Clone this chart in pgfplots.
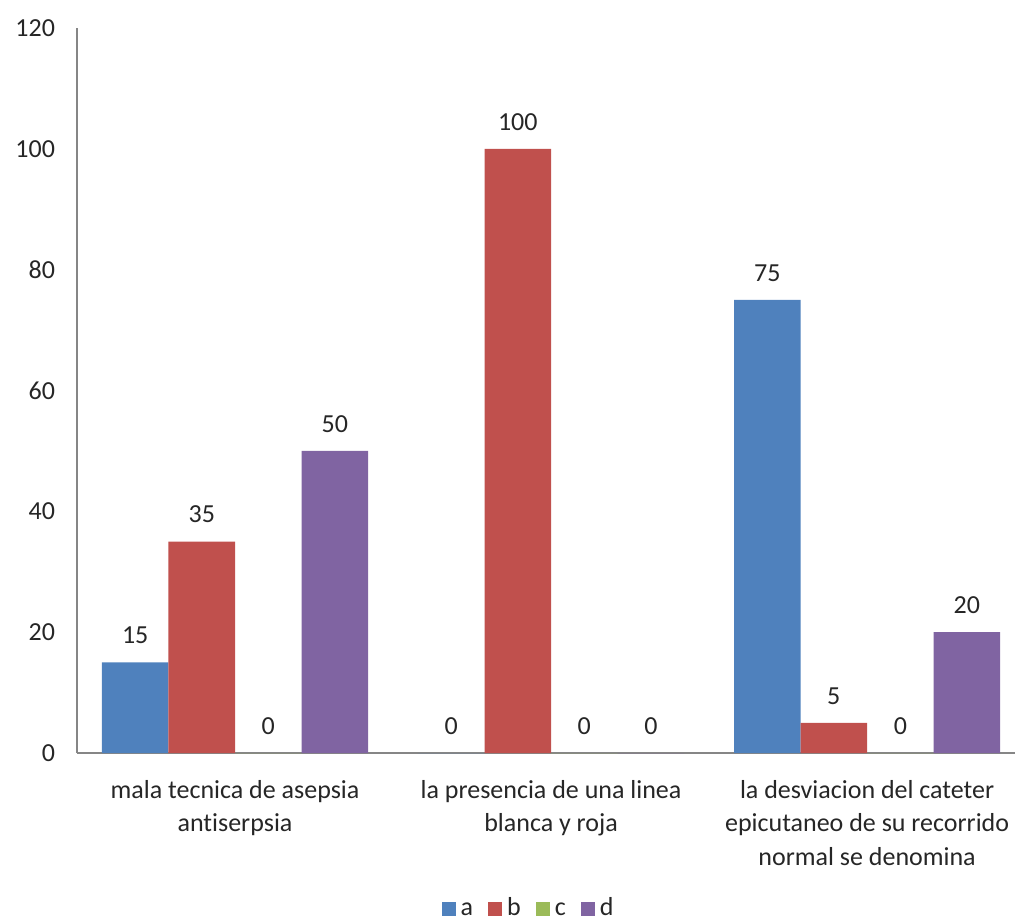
\documentclass[border=0pt]{standalone}
\usepackage{pgfplots}
\pgfplotsset{compat=1.18}
\usepackage{fontspec}
\setmainfont{Carlito}[Ligatures={NoCommon}]
\definecolor{ca}{HTML}{4F81BD}
\definecolor{cb}{HTML}{C0504D}
\definecolor{cc}{HTML}{9BBB59}
\definecolor{cd}{HTML}{8064A2}
\definecolor{axgray}{HTML}{868686}
\newcommand{\lblfont}{\fontsize{19.5}{25}\selectfont}
\begin{document}
\begin{tikzpicture}
\useasboundingbox (-57.75pt,-126.75pt) rectangle (703.5pt,564.75pt);
\begin{axis}[
  at={(0pt,0pt)}, anchor=south west,
  scale only axis, width=703.5pt, height=543.75pt,
  xmin=-0.5, xmax=2.468, ymin=0, ymax=120,
  ytick={0,20,...,120},
  xtick={0,1,2},
  xticklabels={{mala tecnica de asepsia\\antiserpsia},{la presencia de una linea\\blanca y roja},{la desviacion del cateter\\epicutaneo de su recorrido\\normal se denomina}},
  x tick label style={align=center, font=\lblfont, anchor=north, yshift=-17pt, text=black!85},
  y tick label style={font=\lblfont, xshift=-13pt, text=black!85},
  /pgf/number format/assume math mode=true,
  ybar=0pt, bar width=49.9pt,
  nodes near coords,
  every node near coord/.append style={font=\lblfont, anchor=base, yshift=14pt, text=black!85},
  axis x line*=bottom, axis y line*=left,
  axis line style={color=axgray, line width=0.8pt},
  major tick length=0pt,
  enlargelimits=false, clip=false,
  legend style={at={(0.483,-0.215)}, anchor=center, draw=none, font=\lblfont, text=black!85,
    inner sep=0pt,
    nodes={text height=10.5pt, text depth=0pt, inner xsep=3.5pt},
    /tikz/every even column/.append style={column sep=8pt}},
  legend columns=4,
  legend image code/.code={\fill[#1] (0pt,-5.25pt) rectangle (10.5pt,5.25pt);},
]
\addplot[fill=ca, draw=none] coordinates {(0,15) (1,0) (2,75)};
\addplot[fill=cb, draw=none] coordinates {(0,35) (1,100) (2,5)};
\addplot[fill=cc, draw=none] coordinates {(0,0) (1,0) (2,0)};
\addplot[fill=cd, draw=none] coordinates {(0,50) (1,0) (2,20)};
\legend{a,b,c,d}
\end{axis}
\end{tikzpicture}
\end{document}
